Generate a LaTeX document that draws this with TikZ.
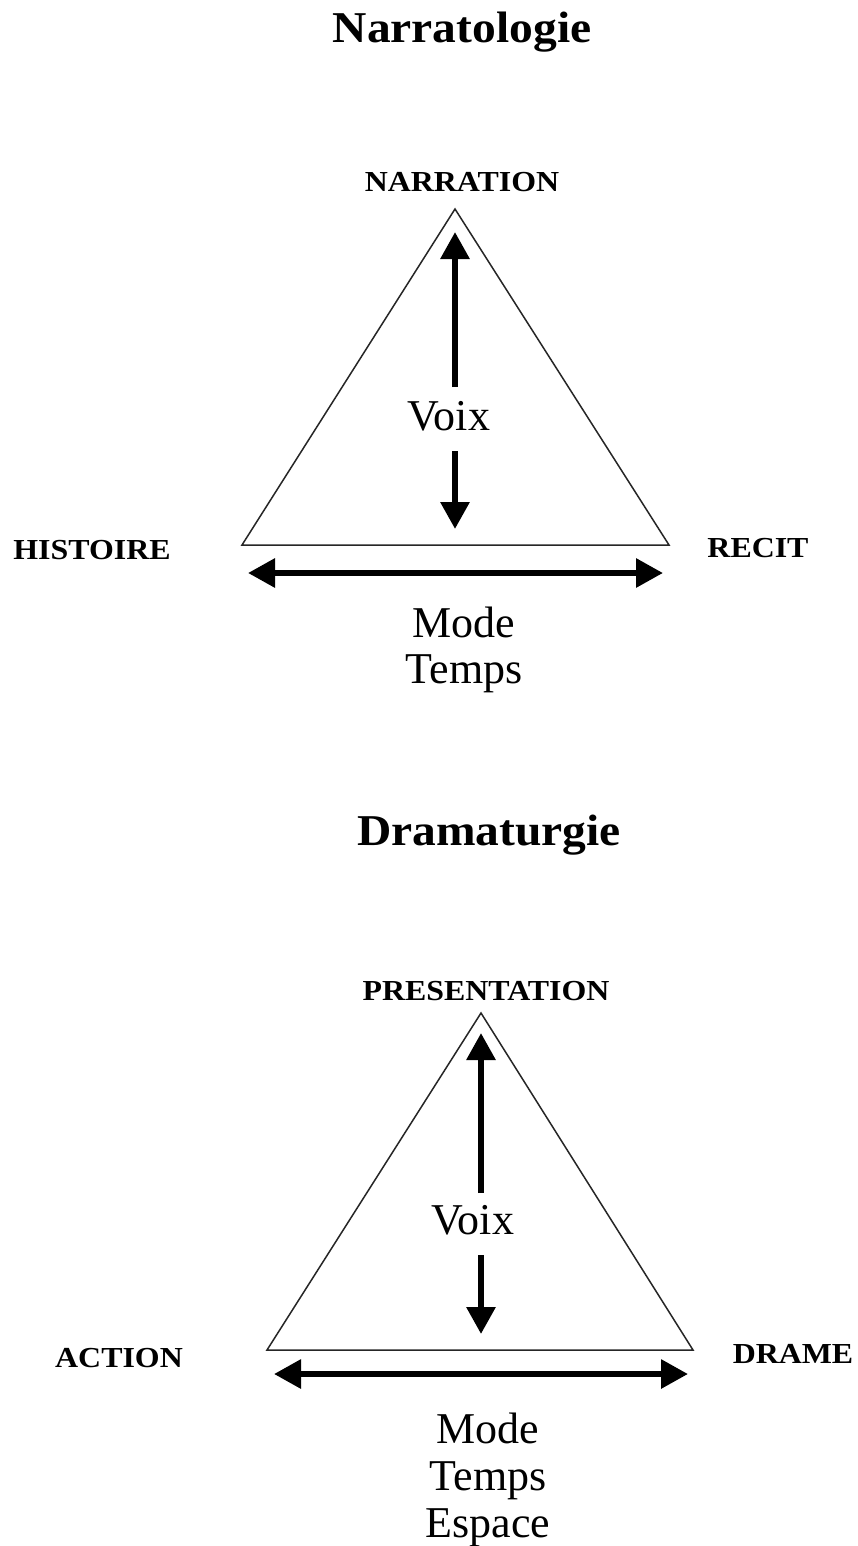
\documentclass[tikz,border=0pt]{standalone}
\usepackage{fontspec}
\setmainfont{Liberation Serif}
\newfontfamily\labfont[FakeStretch=1.1]{Liberation Serif}
\newfontfamily\titfont[FakeStretch=1.08]{Liberation Serif}
\usetikzlibrary{arrows.meta}
\begin{document}
\begin{tikzpicture}[x=1pt,y=-1pt,
  title/.style={font=\titfont\fontsize{44}{50}\selectfont\bfseries, anchor=base, inner sep=0pt},
  lab/.style={font=\labfont\fontsize{29}{34}\selectfont\bfseries, anchor=base, inner sep=0pt},
  txt/.style={font=\fontsize{44}{47}\selectfont, anchor=base, inner sep=0pt},
  voix/.style={font=\fontsize{44}{47}\selectfont, anchor=base, inner sep=0pt},
  tri/.style={draw=black!85, line width=1.5pt, line join=miter},
  arr/.style={line width=6pt, -{Triangle[length=27pt,width=28pt]}},
  dbl/.style={line width=6pt, {Triangle[length=27pt,width=28pt]}-{Triangle[length=27pt,width=28pt]}}]
\useasboundingbox (0,0) rectangle (857,1546);
\fill[white] (0,0) rectangle (857,1546);

% ---------- Narratologie ----------
\node[title] (t1) at (462,43) {Narratologie};
\node[lab] (narration) at (462,192) {NARRATION};
\node[lab] (histoire) at (92,559) {HISTOIRE};
\node[lab] (recit) at (758,557) {RECIT};
\coordinate (a1) at (455,209);
\coordinate (l1) at (242,545);
\coordinate (r1) at (669,545);
\draw[tri] (a1) -- (l1) -- (r1) -- cycle;
\node[voix] (voix1) at (449,430) {Voix};
\coordinate (u1s) at (455,387);
\coordinate (u1e) at (455,232);
\coordinate (d1s) at (455,451);
\coordinate (d1e) at (455,529);
\draw[arr] (u1s) -- (u1e);
\draw[arr] (d1s) -- (d1e);
\coordinate (h1l) at (248,573);
\coordinate (h1r) at (663,573);
\draw[dbl] (h1l) -- (h1r);
\node[txt] (mode1) at (464,637) {Mode};
\node[txt] (temps1) at (464,683) {Temps};

% ---------- Dramaturgie ----------
\node[title] (t2) at (489,845) {Dramaturgie};
\node[lab] (presentation) at (486,1000) {PRESENTATION};
\node[lab] (action) at (119,1367) {ACTION};
\node[lab] (drame) at (793,1363) {DRAME};
\coordinate (a2) at (481,1013);
\coordinate (l2) at (267,1350);
\coordinate (r2) at (693,1350);
\draw[tri] (a2) -- (l2) -- (r2) -- cycle;
\node[voix] (voix2) at (473,1234) {Voix};
\coordinate (u2s) at (481,1193);
\coordinate (u2e) at (481,1033);
\coordinate (d2s) at (481,1255);
\coordinate (d2e) at (481,1334);
\draw[arr] (u2s) -- (u2e);
\draw[arr] (d2s) -- (d2e);
\coordinate (h2l) at (274,1374);
\coordinate (h2r) at (688,1374);
\draw[dbl] (h2l) -- (h2r);
\node[txt] (mode2) at (488,1443) {Mode};
\node[txt] (temps2) at (488,1490) {Temps};
\node[txt] (espace2) at (488,1537) {Espace};
\end{tikzpicture}
\end{document}
